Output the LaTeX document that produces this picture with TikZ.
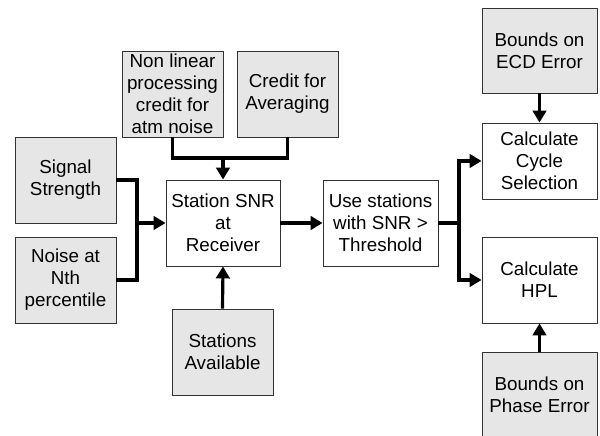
\documentclass[tikz,border=0pt]{standalone}
\usepackage{fontspec}
\setmainfont{Liberation Sans}
\usepackage{tikz}
\usetikzlibrary{arrows.meta}

\definecolor{boxgray}{HTML}{E6E6E6}
\definecolor{edgegray}{HTML}{333333}

\tikzset{
  blockbox/.style={draw=edgegray, line width=0.5pt, align=center, inner sep=1pt,
    font=\fontsize{10.7}{12.5}\selectfont, minimum height=1.72cm},
  inbox/.style={blockbox, fill=boxgray, minimum width=2.02cm},
  wideinbox/.style={blockbox, fill=boxgray, minimum width=2.3cm},
  procbox/.style={blockbox, fill=white},
  flow/.style={line width=1.8pt, -{Triangle[length=0.24cm,width=0.27cm]}},
  link/.style={line width=1.8pt}
}

\begin{document}
\begin{tikzpicture}
    \useasboundingbox (0,0) rectangle (12,8.72);
        % inputs on the left
        \node[inbox] (nonlin) at (3.45,6.84) {Non linear\\processing\\credit for\\atm noise};
        \node[inbox] (credit) at (5.75,6.84) {Credit for\\Averaging};
        \node[inbox] (signal) at (1.31,5.12) {Signal\\Strength};
        \node[inbox] (noise) at (1.31,3.12) {Noise at\\Nth\\percentile};
        \node[inbox] (avail) at (4.45,1.68) {Stations\\Available};
        % processing steps
        \node[procbox, minimum width=2.28cm] (snr) at (4.46,4.26) {Station SNR\\at\\Receiver};
        \node[procbox, minimum width=2.3cm] (use) at (7.61,4.26) {Use stations\\with SNR >\\Threshold};
        \node[procbox, minimum width=2.3cm, minimum height=1.52cm] (cycle) at (10.79,5.5) {Calculate\\Cycle\\Selection};
        \node[procbox, minimum width=2.3cm] (hpl) at (10.79,3.12) {Calculate\\HPL};
        % bounds on the right
        \node[wideinbox, minimum height=1.7cm] (ecd) at (10.79,7.71) {Bounds on\\ECD Error};
        \node[wideinbox] (phase) at (10.79,0.82) {Bounds on\\Phase Error};
        % junction points
        \coordinate (join) at (2.74,4.26);
        \coordinate (merge) at (4.46,5.56);
        \coordinate (split) at (9.18,4.26);
        % connectors
        \draw[link] (signal.east) -| (join);
        \draw[link] (noise.east) -| (join);
        \draw[flow] (join) -- (snr.west);
        \draw[link] (nonlin.south) |- (merge) -| (credit.south);
        \draw[flow] (merge) -- (snr.north);
        \draw[flow] (avail.north) -- (snr.south);
        \draw[flow] (snr.east) -- (use.west);
        \draw[link] (use.east) -- (split);
        \draw[flow] (split) |- (cycle.west);
        \draw[flow] (split) |- (hpl.west);
        \draw[flow] (ecd.south) -- (cycle.north);
        \draw[flow] (phase.north) -- (hpl.south);
    \end{tikzpicture}
\end{document}
